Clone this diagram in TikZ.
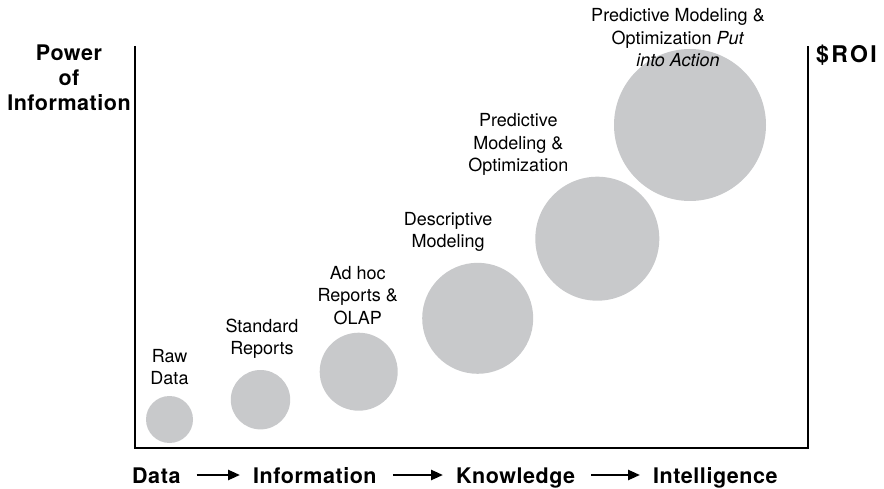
\documentclass[tikz,border=0pt]{standalone}
\usepackage{fontspec}
\setmainfont{TeX Gyre Heros}
\newfontfamily\trackfont[LetterSpace=2.5]{TeX Gyre Heros}
\newfontfamily\roifont[LetterSpace=10]{TeX Gyre Heros}
\usetikzlibrary{positioning,arrows.meta}
\definecolor{bubblegray}{RGB}{200,201,203}

\begin{document}
\begin{tikzpicture}[x=1pt, y=-1pt,
    bubble/.style={circle, fill=bubblegray, draw=none, inner sep=0pt, outer sep=0pt},
    lbl/.style={align=center, inner sep=0pt, font=\fontsize{18}{22.5}\selectfont},
    axlbl/.style={inner sep=0pt, anchor=base west, text height=16pt, text depth=0pt,
        font=\trackfont\bfseries\fontsize{21.5}{25}\selectfont},
    axis/.style={line width=2pt},
    flow/.style={line width=2.5pt, -{Triangle[length=12pt, width=10pt]},
        shorten <=16pt, shorten >=13pt}]
    \useasboundingbox (0,0) rectangle (884,489);

    % Rama wykresu
    \coordinate (tl) at (135,46);
    \coordinate (bl) at (135,448);
    \coordinate (br) at (808,448);
    \coordinate (tr) at (808,46);
    \draw[axis] (tl) -- (bl) -- (br) -- (tr);

    % Kola
    \node[bubble, minimum size=47pt] (raw) at (169.5,419.5) {};
    \node[bubble, minimum size=59.4pt] (std) at (260.5,399.7) {};
    \node[bubble, minimum size=78pt] (adhoc) at (358.7,371.7) {};
    \node[bubble, minimum size=111pt] (desc) at (477.7,318.3) {};
    \node[bubble, minimum size=124pt] (pred) at (597.3,238.7) {};
    \node[bubble, minimum size=152pt] (act) at (690,125) {};

    % Opisy kol
    \node[lbl, above=11pt] (rawlbl) at (raw.north) {Raw\\Data};
    \node[lbl, above=11pt] (stdlbl) at ([xshift=1.5pt]std.north) {Standard\\Reports};
    \node[lbl, above=8pt] (adhoclbl) at ([xshift=-1pt]adhoc.north) {Ad hoc\\Reports \&\\OLAP};
    \node[lbl, above=11pt] (desclbl) at ([xshift=-29.5pt]desc.north) {Descriptive\\Modeling};
    \node[lbl, above=1pt] (predlbl) at ([xshift=-79pt]pred.north) {Predictive\\Modeling \&\\Optimization};
    \node[lbl, anchor=south] (actlbl) at (678,67) {Predictive Modeling \&\\Optimization \textit{Put}\\\textit{into Action}};

    % Opisy osi
    \node[align=center, inner sep=0pt, anchor=south,
        font=\trackfont\bfseries\fontsize{21.5}{25}\selectfont] (power) at (69,111) {Power\\of\\Information};
    \node[inner sep=0pt, anchor=base west,
        font=\roifont\bfseries\fontsize{23}{26}\selectfont] (roi) at (816,63) {\$ROI};

    % Etapy
    \node[axlbl] (data) at (132,483) {Data};
    \node[axlbl] (info) at (253,483) {Information};
    \node[axlbl] (know) at (456,483) {Knowledge};
    \node[axlbl] (intel) at (653,483) {Intelligence};

    \draw[flow] (data) -- (info);
    \draw[flow] (info) -- (know);
    \draw[flow] (know) -- (intel);
\end{tikzpicture}
\end{document}
